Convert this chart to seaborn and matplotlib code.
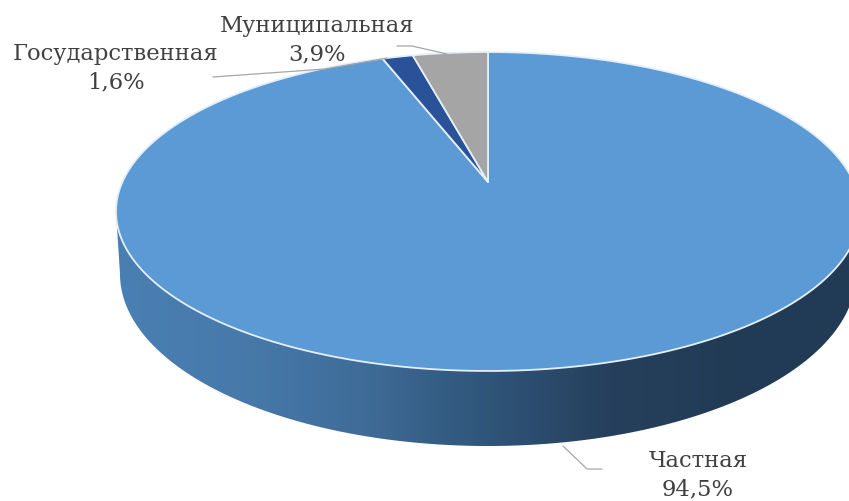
import numpy as np
import matplotlib
matplotlib.use("Agg")
import matplotlib.pyplot as plt
from matplotlib.patches import PathPatch
from matplotlib.path import Path
import seaborn as sns

categories = ["Частная", "Государственная", "Муниципальная"]
shares = [94.5, 1.6, 3.9]
share_labels = ["94,5%", "1,6%", "3,9%"]
palette = ["#5b9ad5", "#2a5298", "#a5a5a5"]
side_colors = ["#4a7fb3", "#477aab", "#3f6c98", "#2f5579", "#263f5c", "#223b55", "#223b55"]

sns.set_theme(style="white")
plt.rcParams["font.family"] = ["DejaVu Serif"]

fig = plt.figure(figsize=(8.49, 5.02), dpi=100)
ax = fig.add_axes([0, 0, 1, 1])
wedges, _ = ax.pie(shares, startangle=90, counterclock=False, colors=palette)
thetas = [(w.theta1, w.theta2) for w in wedges]
for w in wedges:
    w.remove()
ax.set_aspect("auto")
ax.set_xlim(0, 849)
ax.set_ylim(502, 0)
ax.axis("off")

# Perspective view of the unit pie circle
CX, APEX_Y, A, B, K = 488, 183, 365.6, 154, 0.185


def project(u, v):
    w = 1 + K * v
    return CX + A * u / w, APEX_Y - B * v / w


def ring(t1, t2, n=400):
    t = np.radians(np.linspace(t1, t2, n))
    return project(np.cos(t), np.sin(t))


# Side wall: top rim's extremes joined by the lower rim
lt = np.radians(np.linspace(180, 360, 500))
low_x = 488 + 368 * np.cos(lt)
low_y = 275 - 172 * np.sin(lt)
tx, ty = ring(0, 360, 800)
i_l, i_r = np.argmin(tx), np.argmax(tx)
side_verts = np.vstack([[tx[i_l], ty[i_l]], np.column_stack([low_x, low_y]), [tx[i_r], ty[i_r]]])
side = PathPatch(Path(np.vstack([side_verts, side_verts[0]]), closed=True), fc="none", ec="none")
ax.add_patch(side)
cmap = sns.blend_palette(side_colors, as_cmap=True)
grad = ax.imshow(np.linspace(0, 1, 256)[None, :], cmap=cmap, extent=(116, 860, 502, 0),
                 aspect="auto", zorder=1)
grad.set_clip_path(side)
ax.set_xlim(0, 849)
ax.set_ylim(502, 0)

# Top face
for (t1, t2), color in zip(thetas, palette):
    x, y = ring(t1, t2)
    xs = np.r_[CX, x, CX]
    ys = np.r_[APEX_Y, y, APEX_Y]
    ax.fill(xs, ys, fc=color, ec="#e4eff9", lw=1.3, zorder=2, joinstyle="round")

# Leader lines
leader_x = [[563, 587, 602], [213, 325, 387], [397, 412, 447]]
leader_y = [[447, 470, 470], [78, 70, 59], [47, 47, 55]]
for lx, ly in zip(leader_x, leader_y):
    ax.plot(lx, ly, color="#a6a6a6", lw=0.9, zorder=3)

# Labels
label_x = [698, 116, 317]
label_y = [475, 68, 40]
for name, val, x, y in zip(categories, share_labels, label_x, label_y):
    ax.text(x, y, f"{name}\n{val}", ha="center", va="center", fontsize=16.3,
            color="#404040", linespacing=1.38, zorder=4)

fig.savefig("out.png", dpi=100)
